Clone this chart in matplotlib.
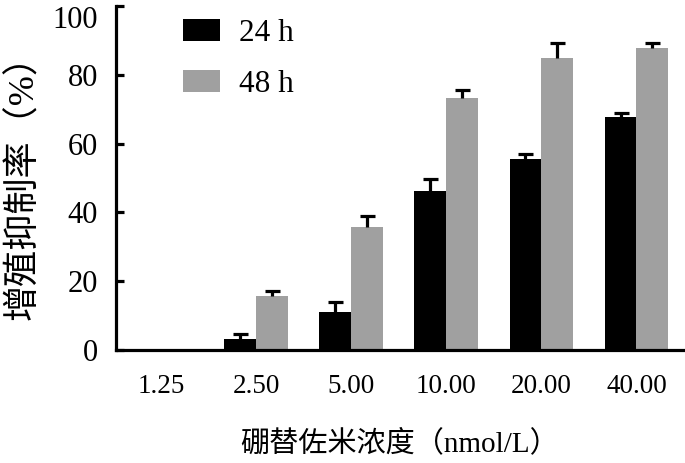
import numpy as np
import matplotlib
matplotlib.use("Agg")
import matplotlib.pyplot as plt

plt.rcParams['font.family'] = ['Liberation Serif', 'Noto Sans CJK SC', 'DejaVu Sans']

# data
doses = ['1.25', '2.50', '5.00', '10.00', '20.00', '40.00']
rate_24h = [0, 3.2, 11.0, 46.3, 55.6, 67.6]
err_24h = [0, 1.4, 3.0, 3.4, 1.4, 1.4]
rate_48h = [0, 15.7, 35.8, 73.3, 85.0, 87.9]
err_48h = [0, 1.4, 3.2, 2.4, 4.1, 1.3]

x = np.arange(len(doses))
w = 0.335

fig = plt.figure(figsize=(6.85, 4.63), dpi=100)
ax = fig.add_axes([116 / 685, 113 / 463, 568 / 685, 344 / 463])

ax.bar(x - w / 2, rate_24h, w, color='black', label='24 h', zorder=2)
ax.bar(x + w / 2, rate_48h, w, color='#a0a0a0', label='48 h', zorder=2)

# upper error bars only, skip the empty group
for pos, vals, errs in [(x - w / 2, rate_24h, err_24h), (x + w / 2, rate_48h, err_48h)]:
    vals = np.array(vals)
    errs = np.array(errs)
    m = errs > 0
    _, caps, _ = ax.errorbar(pos[m], vals[m], yerr=[np.zeros(m.sum()), errs[m]],
                             fmt='none', ecolor='black', elinewidth=2.3,
                             capsize=5.4, capthick=2.3, zorder=3)
    caps[0].set_visible(False)

ax.set_xlim(-0.475, 5.5)
ax.set_ylim(0, 100)
ax.set_yticks([0, 20, 40, 60, 80, 100])
ax.set_xticks(x)
ax.set_xticklabels(doses)

for s in ['top', 'right']:
    ax.spines[s].set_visible(False)
for s in ['left', 'bottom']:
    ax.spines[s].set_linewidth(2.3)

ax.tick_params(axis='y', direction='in', length=6, width=2.3, labelsize=22, pad=13)
ax.tick_params(axis='x', length=0, labelsize=19.5, pad=17)
# keep the top label inside the picture
ax.get_yticklabels()[-1].set_va('top')

ax.set_xlabel('硼替佐米浓度（nmol/L）', fontsize=21, labelpad=22)
ax.set_ylabel('增殖抑制率（%）', fontsize=26, labelpad=8)

ax.legend(loc='upper left', bbox_to_anchor=(183 / 685, 1 - 19 / 463),
          bbox_transform=fig.transFigure, frameon=False, fontsize=22.5,
          handlelength=1.2, handleheight=0.68, handletextpad=0.6,
          labelspacing=0.7, borderpad=0, borderaxespad=0)

fig.savefig('out.png', dpi=100)
